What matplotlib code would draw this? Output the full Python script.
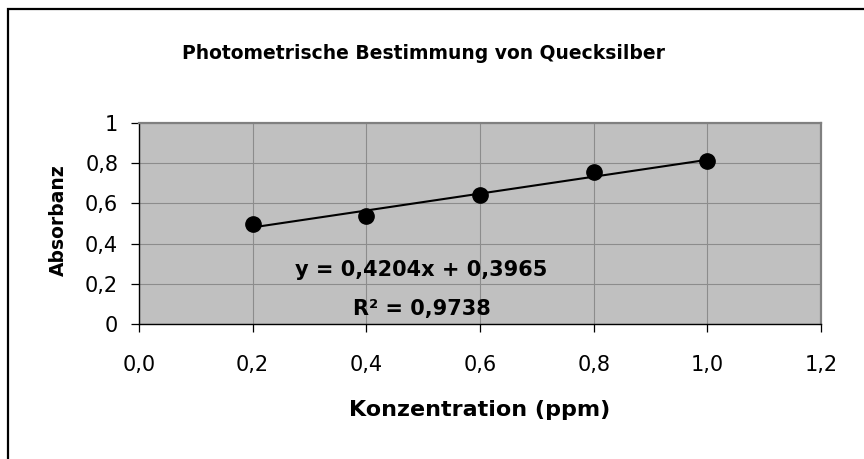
"""
Kalibriergerade: photometrische Bestimmung von Quecksilber.

Draws the measured absorbance values against concentration together with
the linear trendline and its equation, and saves the chart as out.png.
"""

import matplotlib
matplotlib.use("Agg")
import matplotlib.pyplot as plt
from matplotlib.patches import Rectangle


# Messwerte
konzentration = [0.2, 0.4, 0.6, 0.8, 1.0]
absorbanz = [0.50, 0.535, 0.64, 0.755, 0.81]

# Lineare Regression (Trendlinie)
steigung = 0.4204
achsenabschnitt = 0.3965
bestimmtheitsmass = 0.9738

x_ticks = [0.0, 0.2, 0.4, 0.6, 0.8, 1.0, 1.2]
x_tick_labels = ["0,0", "0,2", "0,4", "0,6", "0,8", "1,0", "1,2"]
y_ticks = [0.0, 0.2, 0.4, 0.6, 0.8, 1.0]
y_tick_labels = ["0", "0,2", "0,4", "0,6", "0,8", "1"]

TITLE = "Photometrische Bestimmung von Quecksilber"
X_LABEL = "Konzentration (ppm)"
Y_LABEL = "Absorbanz"


def fmt(value, digits=4):
    """German decimal comma."""
    return f"{value:.{digits}f}".replace(".", ",")


def main():
    W, H = 864, 459
    fig = plt.figure(figsize=(W / 100, H / 100), dpi=100)
    fig.patch.set_facecolor("white")

    # chart border (left and top edge visible)
    fig.add_artist(Rectangle((8 / W, -0.2), 1.3, 1.2 - 9 / H,
                             transform=fig.transFigure, fill=False,
                             edgecolor="black", linewidth=1.6))

    left, right, top, bottom = 139, 821, 123, 324
    ax = fig.add_axes([left / W, 1 - bottom / H,
                       (right - left) / W, (bottom - top) / H])
    ax.set_facecolor("#c0c0c0")

    ax.set_xlim(0, 1.2)
    ax.set_ylim(0, 1.0)
    ax.set_xticks(x_ticks)
    ax.set_xticklabels(x_tick_labels)
    ax.set_yticks(y_ticks)
    ax.set_yticklabels(y_tick_labels)
    ax.grid(True, color="#8c8c8c", linewidth=0.8, zorder=0)
    ax.set_axisbelow(True)

    for side in ("left", "bottom"):
        ax.spines[side].set_color("black")
        ax.spines[side].set_linewidth(1.0)
    for side in ("top", "right"):
        ax.spines[side].set_color("#808080")
        ax.spines[side].set_linewidth(1.6)

    ax.tick_params(axis="x", direction="out", length=6, width=0.9,
                   pad=16, labelsize=15, colors="black")
    ax.tick_params(axis="y", direction="out", length=6, width=0.9,
                   pad=9, labelsize=15, colors="black")

    # trendline from the regression coefficients
    x0, x1 = konzentration[0], konzentration[-1]
    ax.plot([x0, x1],
            [steigung * x0 + achsenabschnitt, steigung * x1 + achsenabschnitt],
            color="black", linewidth=1.5, zorder=3)

    ax.plot(konzentration, absorbanz, linestyle="none", marker="o",
            markersize=11, color="black", zorder=4)

    ax.text(0.496, 0.239,
            f"y = {fmt(steigung)}x + {fmt(achsenabschnitt)}",
            ha="center", va="baseline", fontsize=15, fontweight="bold")
    ax.text(0.497, 0.045, f"R\u00b2 = {fmt(bestimmtheitsmass)}",
            ha="center", va="baseline", fontsize=15, fontweight="bold")

    fig.text(423.5 / W, 1 - 59 / H, TITLE, ha="center", va="baseline",
             fontsize=13.5, fontweight="bold")
    fig.text(480 / W, 1 - 416 / H, X_LABEL, ha="center", va="baseline",
             fontsize=16, fontweight="bold")
    fig.text(58 / W, 1 - 220.5 / H, Y_LABEL, ha="center", va="center",
             rotation=90, fontsize=13.5, fontweight="bold")

    fig.savefig("out.png", dpi=100)
    plt.close(fig)


if __name__ == "__main__":
    main()
